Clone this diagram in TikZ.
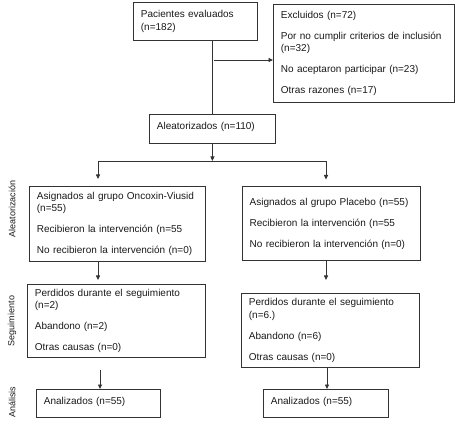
\documentclass[tikz,border=0pt]{standalone}
\usepackage{fontspec}
\setmainfont{Liberation Sans}
\usetikzlibrary{arrows.meta,positioning}

\begin{document}
\begin{tikzpicture}[
  x=1pt, y=-1pt,
  every node/.style={text=black!90},
  box/.style={draw=black!80, line width=0.8pt, anchor=north west, align=left, inner xsep=7.5pt, inner ysep=0pt,
    font=\fontsize{10}{12.5}\selectfont},
  phase/.style={rotate=90, font=\fontsize{9}{11}\selectfont},
  line/.style={draw=black!80, line width=0.8pt},
  arrow/.style={line, -{Triangle[length=4.5pt,width=4pt]}}
]
\useasboundingbox (0,0) rectangle (455,430);

\node[box, text width=109pt, minimum height=38pt] (pac) at (133,2) {Pacientes evaluados\\(n=182)};
\node[box, text width=166pt, minimum height=98pt] (excl) at (273,4) {Excluidos (n=72)\\[8.5pt]Por no cumplir criterios de inclusión\\(n=32)\\[8.5pt]No aceptaron participar (n=23)\\[8.5pt]Otras razones (n=17)};
\node[box, text width=111pt, minimum height=29pt, text depth=6pt] (alea) at (149,114) {Aleatorizados (n=110)};

\node[box, text width=161pt, minimum height=75pt] (asigA) at (29,186) {Asignados al grupo Oncoxin-Viusid\\(n=55)\\[8.5pt]Recibieron la intervención (n=55\\[8.5pt]No recibieron la intervención (n=0)};
\node[box, text width=163pt, minimum height=74pt, right=36pt of asigA, anchor=west] (asigB) {Asignados al grupo Placebo (n=55)\\[8.5pt]Recibieron la intervención (n=55\\[8.5pt]No recibieron la intervención (n=0)};

\node[box, text width=163pt, minimum height=73pt] (perdA) at (27,284) {Perdidos durante el seguimiento\\(n=2)\\[8.5pt]Abandono (n=2)\\[8.5pt]Otras causas (n=0)};
\node[box, text width=163pt, minimum height=74pt] (perdB) at (241,293) {Perdidos durante el seguimiento\\(n=6.)\\[8.5pt]Abandono (n=6)\\[8.5pt]Otras causas (n=0)};

\node[box, text width=109pt, minimum height=28pt, text depth=6pt] (anaA) at (36,389) {Analizados (n=55)};
\node[box, text width=110pt, minimum height=28pt, text depth=6pt] (anaB) at (263,389) {Analizados (n=55)};

% phases
\node[phase] (ph1) at (12,209) {Aleatorización};
\node[phase] (ph2) at (12,321) {Seguimiento};
\node[phase] (ph3) at (12,402) {Análisis};

% connectors
\coordinate (exit) at (214,60);
\coordinate (brA) at (98,161);
\coordinate (brB) at (326,161);
\coordinate (colA) at (100,0);
\coordinate (colB) at (327,0);
\draw[line] (pac.south -| alea.north) -- (alea.north);
\draw[arrow] (exit) -- (exit -| excl.west);
\draw[arrow] (alea.south) -- (alea.south |- brA);
\draw[line] (brA) -- (brB);
\draw[arrow, shorten >=7pt] (brA) -- (brA |- asigA.north);
\draw[arrow, shorten >=7pt] (brB) -- (brB |- asigB.north);
\draw[arrow, shorten >=4pt] (asigA.south -| brA) -- (perdA.north -| brA);
\draw[arrow, shorten >=13pt] (asigB.south -| brB) -- (perdB.north -| brB);
\draw[arrow, shorten <=12pt] (perdA.south -| colA) -- (anaA.north -| colA);
\draw[arrow] (perdB.south -| colB) -- (anaB.north -| colB);
\end{tikzpicture}
\end{document}
